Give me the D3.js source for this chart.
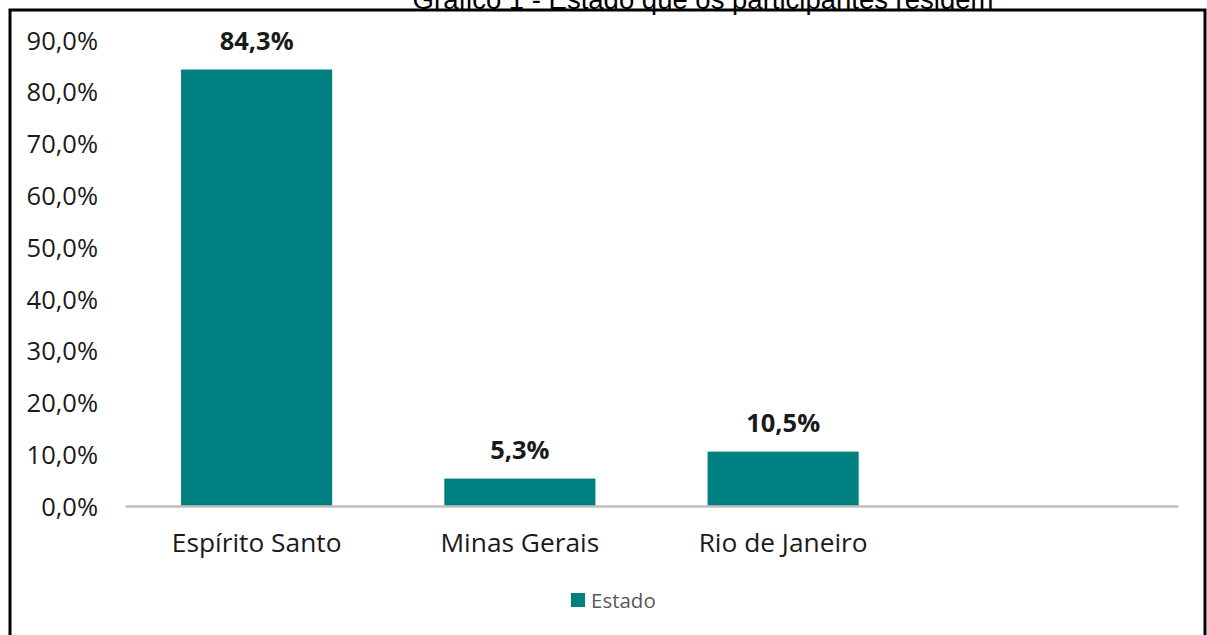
<!DOCTYPE html>
<html lang="pt">
<head>
    <meta charset="UTF-8">
    <title>Gráfico 1 - Estado que os participantes residem</title>
    <script src="https://d3js.org/d3.v7.min.js"></script>
    <style>
        body { margin: 0; background: #fff; }
        .tick text { font-family: "Open Sans", sans-serif; }
    </style>
</head>
<body>
    <svg class="chart"></svg>
    <script>
        // Chart data
        var titleText = "Gráfico 1 - Estado que os participantes residem";
        var categories = ["Espírito Santo", "Minas Gerais", "Rio de Janeiro"];
        var values = [84.3, 5.3, 10.5];
        var yTicks = [0, 10, 20, 30, 40, 50, 60, 70, 80, 90];
        var seriesName = "Estado";

        var width = 1207, height = 635;
        var barColor = "#008080";

        var svg = d3.select('.chart')
                    .attr('width', width)
                    .attr('height', height);

        svg.append('rect')
           .attr('width', width).attr('height', height)
           .attr('fill', '#fff');

        // title, cut at the top of the page
        svg.append('text')
           .attr('x', 703).attr('y', 9)
           .attr('text-anchor', 'middle')
           .style('font-family', '"Liberation Sans", Arial, sans-serif')
           .style('font-size', '27.5px')
           .attr('fill', '#000')
           .text(titleText);

        // outer frame (bottom runs off the page)
        svg.append('rect')
           .attr('x', 10).attr('y', 10)
           .attr('width', 1195).attr('height', 660)
           .attr('fill', 'none')
           .attr('stroke', '#000')
           .attr('stroke-width', 3);

        // scales; the fourth band is left empty as in the original
        var x = d3.scaleBand()
                  .domain(categories.concat([" "]))
                  .range([125, 1178])
                  .paddingInner(0.426)
                  .paddingOuter(0.213);

        var y = d3.scaleLinear()
                  .domain([0, 90])
                  .range([506, 40]);

        var fmt = function (v, digits) {
            return v.toFixed(digits).replace('.', ',') + '%';
        };

        // y axis labels (no line, no ticks)
        var yAxis = svg.append('g')
           .attr('transform', 'translate(98,0)')
           .call(d3.axisLeft(y).tickValues(yTicks).tickSize(0).tickPadding(0)
                 .tickFormat(function (d) { return fmt(d, 1); }));
        yAxis.select('.domain').remove();
        yAxis.selectAll('text')
             .style('font-size', '25.5px')
             .attr('fill', '#1a1a1a')
             .attr('dy', '0.36em');

        // bars
        svg.selectAll('.bar')
           .data(values)
           .enter().append('rect')
           .attr('class', 'bar')
           .attr('x', function (d, i) { return x(categories[i]); })
           .attr('y', function (d) { return y(d); })
           .attr('width', x.bandwidth())
           .attr('height', function (d) { return y(0) - y(d); })
           .attr('fill', barColor);

        // category axis
        var xAxis = svg.append('g')
           .attr('transform', 'translate(0,' + y(0) + ')')
           .call(d3.axisBottom(x).tickSize(0).tickPadding(0));
        xAxis.select('.domain')
             .attr('stroke', '#bfbfbf')
             .attr('stroke-width', 2.5);
        xAxis.selectAll('text')
             .style('font-size', '26.3px')
             .attr('fill', '#1a1a1a')
             .attr('y', 46)
             .attr('dy', 0);

        // data labels
        svg.selectAll('.label')
           .data(values)
           .enter().append('text')
           .attr('class', 'label')
           .attr('x', function (d, i) { return x(categories[i]) + x.bandwidth() / 2; })
           .attr('y', function (d) { return y(d) - 20; })
           .attr('text-anchor', 'middle')
           .style('font-family', '"Open Sans", sans-serif')
           .style('font-weight', 'bold')
           .style('font-size', '25.5px')
           .attr('fill', '#1a1a1a')
           .text(function (d) { return fmt(d, 1); });

        // legend
        var legend = svg.append('g').attr('transform', 'translate(571,593)');
        legend.append('rect')
              .attr('width', 14).attr('height', 14)
              .attr('fill', barColor);
        legend.append('text')
              .attr('x', 20).attr('y', 15)
              .style('font-family', '"Open Sans", sans-serif')
              .style('font-size', '20.5px')
              .attr('fill', '#595959')
              .text(seriesName);
    </script>
</body>
</html>
